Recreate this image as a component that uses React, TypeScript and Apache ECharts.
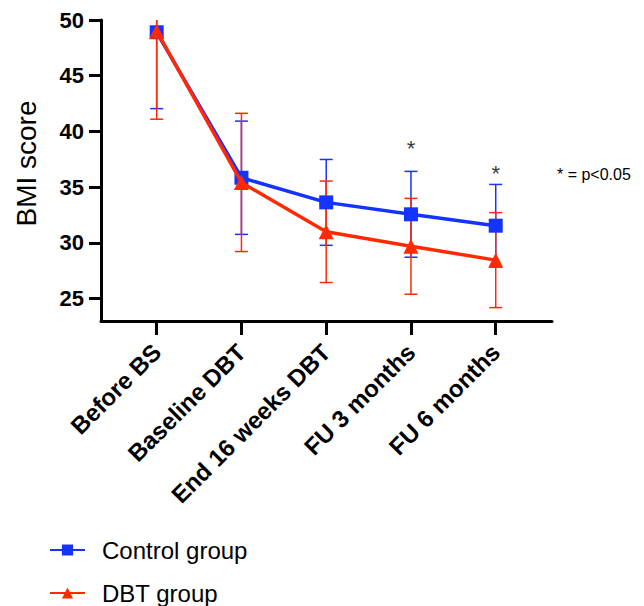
import React, { useEffect, useRef } from "react";
import * as echarts from "echarts";

const categories = ["Before BS", "Baseline DBT", "End 16 weeks DBT", "FU 3 months", "FU 6 months"];
const controlMean = [48.9, 35.85, 33.64, 32.57, 31.55];
const controlSD = [6.85, 5.08, 3.85, 3.85, 3.7];
const dbtMean = [49.0, 35.43, 31.0, 29.7, 28.46];
const dbtSD = [7.9, 6.2, 4.55, 4.3, 4.26];
const yTicks = [25, 30, 35, 40, 45, 50];
const xTicks = [0, 1, 2, 3, 4];
const sigIndex = [3, 4];
const sigY = [38.5, 36.2];

const BLUE = "#1433ff";
const RED = "#ff2a05";
const FONT = "'Liberation Sans', Arial, Helvetica, sans-serif";

function errSeries(name: string, mean: number[], sd: number[], color: string) {
  return {
    type: "custom",
    name: name + " err",
    clip: true,
    data: mean.map((m, i) => [i, m, sd[i]]),
    renderItem: (params: any, api: any) => {
      const x = api.value(0);
      const m = api.value(1);
      const s = api.value(2);
      const top = api.coord([x, m + s]);
      const bot = api.coord([x, m - s]);
      const hw = 6.5;
      const style = { stroke: color, lineWidth: 1.5 };
      return {
        type: "group",
        children: [
          { type: "line", shape: { x1: top[0], y1: top[1], x2: bot[0], y2: bot[1] }, style },
          { type: "line", shape: { x1: top[0] - hw, y1: top[1], x2: top[0] + hw, y2: top[1] }, style },
          { type: "line", shape: { x1: bot[0] - hw, y1: bot[1], x2: bot[0] + hw, y2: bot[1] }, style },
        ],
      };
    },
    z: 2,
  };
}

const legendBase = {
  orient: "horizontal",
  left: 49,
  padding: 0,
  itemWidth: 35,
  itemHeight: 14,
  textStyle: { fontSize: 24, lineHeight: 24, fontFamily: FONT, color: "#000", padding: [0, 0, 0, 12] },
};

export default function App() {
  const ref = useRef<HTMLDivElement>(null);
  useEffect(() => {
    if (!ref.current) return;
    const chart = echarts.init(ref.current, null, { renderer: "svg" });
    chart.setOption({
      animation: false,
      backgroundColor: "#ffffff",
      grid: { left: 101, right: 92, top: 20, bottom: 285, containLabel: false },
      xAxis: {
        type: "value",
        min: -0.657,
        max: 4.664,
        splitLine: { show: false },
        axisLine: { show: true, onZero: false, lineStyle: { color: "#000", width: 3 } },
        axisTick: { show: true, customValues: xTicks, length: 14, lineStyle: { color: "#000", width: 3 } },
        axisLabel: {
          customValues: xTicks,
          rotate: 45,
          margin: 27,
          fontSize: 24,
          fontWeight: "bold",
          fontFamily: FONT,
          color: "#000",
          formatter: (v: number) => categories[Math.round(v)] ?? "",
        },
      },
      yAxis: {
        type: "value",
        min: 23,
        max: 50,
        name: "BMI score",
        nameLocation: "middle",
        nameRotate: 90,
        nameGap: 61,
        nameTextStyle: { fontSize: 28, fontFamily: FONT, color: "#000", padding: [0, 0, 0, 14] },
        splitLine: { show: false },
        axisLine: { show: true, onZero: false, lineStyle: { color: "#000", width: 3 } },
        axisTick: { show: true, customValues: yTicks, length: 12, lineStyle: { color: "#000", width: 3 } },
        axisLabel: {
          customValues: yTicks,
          margin: 17,
          fontSize: 22,
          fontWeight: "bold",
          fontFamily: FONT,
          color: "#000",
        },
      },
      legend: [
        { ...legendBase, top: 538, data: ["Control group"] },
        { ...legendBase, top: 581, data: ["DBT group"] },
      ],
      graphic: [
        {
          type: "text",
          left: 557,
          top: 166,
          style: { text: "* = p<0.05", fontSize: 16, fontFamily: FONT, fill: "#000" },
        },
      ],
      series: [
        errSeries("Control group", controlMean, controlSD, BLUE),
        {
          type: "line",
          name: "Control group",
          data: controlMean.map((m, i) => [i, m]),
          symbol: "rect",
          symbolSize: 14,
          lineStyle: { color: BLUE, width: 3.5 },
          itemStyle: { color: BLUE },
          z: 3,
        },
        errSeries("DBT group", dbtMean, dbtSD, RED),
        {
          type: "line",
          name: "DBT group",
          data: dbtMean.map((m, i) => [i, m]),
          symbol: "triangle",
          symbolSize: 15,
          lineStyle: { color: RED, width: 3.5 },
          itemStyle: { color: RED },
          z: 4,
        },
        {
          type: "scatter",
          name: "sig",
          data: sigIndex.map((x, i) => [x, sigY[i]]),
          symbolSize: 0,
          label: {
            show: true,
            position: "inside",
            formatter: "*",
            fontSize: 22,
            fontFamily: FONT,
            color: "#000",
          },
          z: 5,
        },
      ],
    });
    return () => chart.dispose();
  }, []);
  return (
    <div
      ref={ref}
      style={{ position: "fixed", left: 0, top: 0, width: 644, height: 606 }}
    />
  );
}
